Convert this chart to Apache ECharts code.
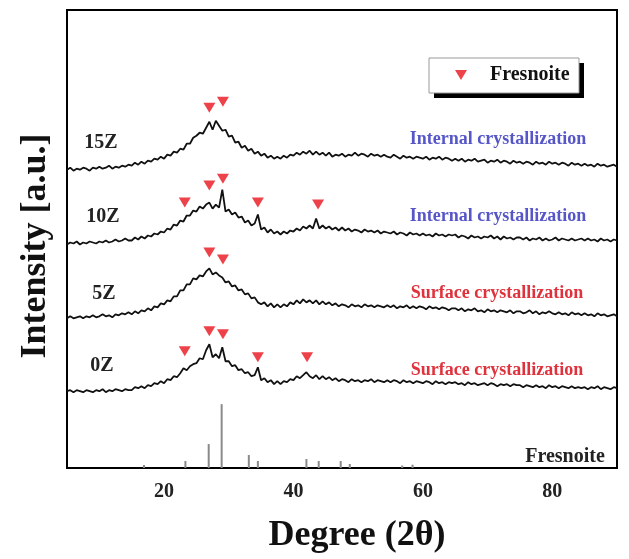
<!DOCTYPE html>
<html style="height: 100%">
<head>
<meta charset="utf-8">
</head>
<body style="height: 100%; margin: 0; background: #fff">
<div id="container" style="width: 629px; height: 559px"></div>
<script type="text/javascript" src="https://cdn.jsdelivr.net/npm/echarts@6/dist/echarts.min.js"></script>
<script type="text/javascript">
// XRD patterns, 2theta from 5 to 90 in 0.5 deg steps (values already stacked)
var degStart = 5, degStep = 0.5;

var int15Z = [
  299,301,298,300,299,301,300,298,301,300,302,300,301,303,300,302,301,303,302,304,
  303,306,304,307,305,308,307,310,309,312,310,314,313,317,316,320,319,325,325,331,
  333,336,335,341,347,339,348,343,338,339,332,333,326,327,321,323,318,320,315,317,
  313,315,311,313,310,312,310,313,311,314,313,316,314,317,315,318,314,317,314,316,
  313,316,312,314,313,315,312,314,313,316,313,315,314,312,315,313,314,312,314,312,
  311,314,312,310,313,311,312,310,312,311,310,312,309,311,310,312,309,311,310,308,
  310,308,310,307,309,308,310,307,308,309,306,308,307,309,306,308,307,305,308,306,
  307,305,307,306,304,307,305,306,304,307,305,306,304,306,305,303,306,304,305,303,
  305,303,304,302,305,303,304,302,303,304,302
];
var int10Z = [
  224,226,225,227,224,226,225,227,226,225,227,226,228,226,227,229,227,228,230,228,
  228,231,229,232,230,233,232,235,234,237,236,240,239,244,243,248,247,253,253,258,
  257,262,260,264,266,260,264,261,279,257,259,254,256,251,252,246,248,243,245,254,
  239,241,236,239,235,237,234,237,235,238,237,240,238,242,240,243,240,250,240,243,
  240,242,239,241,238,241,238,240,237,239,238,236,239,237,238,236,238,235,237,236,
  235,237,234,236,235,233,236,234,235,233,235,233,234,232,235,233,234,232,234,233,
  234,231,233,232,230,233,231,232,230,232,231,233,230,232,229,232,230,231,229,231,
  231,229,231,228,230,229,231,228,230,228,229,231,228,230,229,228,230,228,229,230,
  228,230,228,229,227,230,228,229,227,229,228
];
var int5Z = [
  150,152,150,151,152,150,152,151,153,151,152,154,152,153,151,154,153,155,154,156,
  154,157,155,158,157,160,158,162,161,165,164,168,167,172,172,178,178,184,184,190,
  189,193,192,197,200,194,196,193,191,186,187,182,183,178,179,174,175,170,171,166,
  164,166,162,165,161,164,161,164,162,166,164,168,165,169,166,168,165,168,164,167,
  164,166,163,165,162,164,163,161,164,162,163,161,164,162,163,161,163,162,161,163,
  161,163,160,162,161,163,160,162,160,162,161,159,162,160,161,159,161,160,158,160,
  160,158,160,157,159,158,160,157,158,156,159,157,158,156,158,157,156,158,155,157,
  157,155,156,158,155,157,154,156,155,157,155,154,156,154,155,153,156,154,155,153,
  155,153,154,152,155,153,154,152,153,154,152
];
var int0Z = [
  77,78,76,78,77,76,78,77,76,78,77,79,76,78,77,79,78,77,79,78,
  78,81,80,82,80,83,82,85,84,87,85,89,88,92,91,95,100,98,102,104,
  105,110,109,118,124,111,114,110,121,107,107,102,103,98,99,95,96,92,93,101,
  88,90,86,88,84,87,84,87,86,89,88,92,90,93,96,92,90,93,89,92,
  89,91,88,90,87,89,88,86,89,87,88,86,88,87,89,86,88,87,86,88,
  86,88,87,85,88,86,87,85,87,86,85,87,86,84,87,85,86,84,86,85,
  86,84,85,83,86,84,85,83,84,85,83,85,84,82,84,83,84,82,84,83,
  83,81,83,82,81,83,81,82,80,83,81,82,80,82,81,80,82,80,81,80,
  81,79,81,80,82,79,81,80,79,81,80
];

// Fresnoite peak markers (2theta, stacked height)
var peakDeg = [27.0, 29.1, 23.2, 27.0, 29.1, 34.5, 43.8, 27.0, 29.1, 23.2, 27.0, 29.1, 34.5, 42.1];
var peakVal = [361, 367, 266, 283, 290, 266, 264, 216, 209, 117, 137, 134, 111, 111];

// Fresnoite reference pattern
var refDeg = [16.9, 23.3, 26.9, 28.9, 33.1, 34.5, 42.0, 43.9, 47.3, 48.7, 56.8, 58.4];
var refInt = [3, 7, 24, 64, 13, 7, 9, 7, 7, 4, 2.5, 3.3];

var xTicks = [20, 40, 60, 80];

function toPairs(arr) {
    return arr.map(function (v, i) { return [degStart + i * degStep, v]; });
}

var serif = 'Liberation Serif';
var dom = document.getElementById('container');
var myChart = echarts.init(dom);
var tri = 'path://M0,0L12,0L6,10Z';

function curve(name, arr) {
    return {
        name: name,
        type: 'line',
        data: toPairs(arr),
        showSymbol: false,
        symbol: 'none',
        lineStyle: { color: '#111', width: 1.8 },
        z: 3,
        silent: true
    };
}

function txt(s, x, y, color, size) {
    return {
        type: 'text', x: x, y: y, z: 10,
        style: {
            text: s, fill: color, align: 'center', verticalAlign: 'middle',
            font: 'bold ' + size + 'px "' + serif + '"'
        }
    };
}

var option = {
    animation: false,
    backgroundColor: '#fff',
    grid: {
        left: 67, right: 12, top: 10, bottom: 90,
        show: true, borderColor: '#000', borderWidth: 2
    },
    legend: {
        data: [{ name: 'Fresnoite', icon: tri }],
        left: 455, top: 65,
        padding: 0,
        itemWidth: 12, itemHeight: 10,
        z: 20,
        textStyle: {
            fontFamily: serif, fontWeight: 'bold', fontSize: 20, color: '#111',
            padding: [0, 0, 0, 18]
        }
    },
    xAxis: {
        type: 'value', min: 5, max: 90,
        name: 'Degree (2θ)', nameLocation: 'middle', nameGap: 50,
        nameTextStyle: {
            fontFamily: serif, fontWeight: 'bold', fontSize: 36, color: '#111',
            padding: [0, 0, 0, 30]
        },
        axisLine: { lineStyle: { color: '#000', width: 2 } },
        axisTick: { show: false },
        splitLine: { show: false },
        axisLabel: {
            customValues: xTicks, margin: 14,
            fontFamily: serif, fontWeight: 'bold', fontSize: 20, color: '#222'
        }
    },
    yAxis: {
        type: 'value', min: 0, max: 459,
        name: 'Intensity [a.u.]', nameLocation: 'middle', nameGap: 13,
        nameTextStyle: {
            fontFamily: serif, fontWeight: 'bold', fontSize: 36, color: '#111',
            padding: [0, 14, 0, 0]
        },
        axisLine: { show: true, lineStyle: { color: '#000', width: 2 } },
        axisTick: { show: false },
        axisLabel: { show: false },
        splitLine: { show: false }
    },
    graphic: [
        { type: 'rect', z: 1, shape: { x: 434, y: 63, width: 150, height: 35 }, style: { fill: '#000' } },
        { type: 'rect', z: 2, shape: { x: 429, y: 58, width: 150, height: 35 }, style: { fill: '#fff', stroke: '#999', lineWidth: 1 } },
        txt('15Z', 101, 143, '#222', 20),
        txt('10Z', 103, 217, '#222', 20),
        txt('5Z', 104, 294, '#222', 20),
        txt('0Z', 102, 366, '#222', 20),
        txt('Internal crystallization', 498, 139, '#5656c8', 18),
        txt('Internal crystallization', 498, 216, '#5656c8', 18),
        txt('Surface crystallization', 497, 293, '#e0323c', 18),
        txt('Surface crystallization', 497, 370, '#e0323c', 18),
        txt('Fresnoite', 565, 457, '#222', 20)
    ],
    series: [
        curve('15Z', int15Z),
        curve('10Z', int10Z),
        curve('5Z', int5Z),
        curve('0Z', int0Z),
        {
            name: 'Fresnoite ref',
            type: 'bar',
            barWidth: 2,
            data: refDeg.map(function (d, i) { return [d, refInt[i]]; }),
            itemStyle: { color: '#8a8a8a' },
            silent: true
        },
        {
            name: 'Fresnoite',
            type: 'scatter',
            symbol: tri,
            symbolSize: [12, 10],
            data: peakDeg.map(function (d, i) { return [d, peakVal[i]]; }),
            itemStyle: { color: '#e8131b' },
            z: 5
        }
    ]
};

myChart.setOption(option);
</script>
</body>
</html>
